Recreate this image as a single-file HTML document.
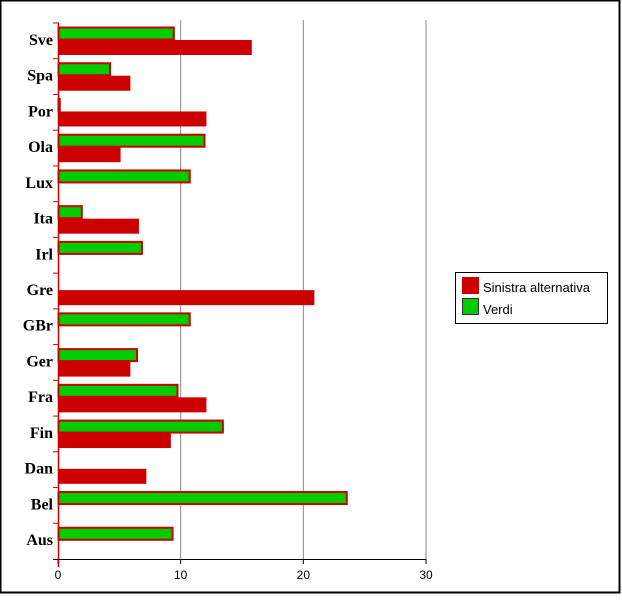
<!DOCTYPE html>
<html><head><meta charset="utf-8"><style>
body{margin:0;background:#fff}
svg text{font-family:"Liberation Serif",serif}
</style></head><body>
<svg width="622" height="595" viewBox="0 0 622 595" xmlns="http://www.w3.org/2000/svg">
<rect x="0.5" y="0.5" width="619" height="592" fill="#fff" stroke="#000" stroke-width="2"/>
<g id="grid"></g><g id="bars"></g><g id="axes"></g>
<g>
<rect x="455.5" y="272.5" width="152" height="51" fill="#fff" stroke="#000"/>
<rect x="462" y="277" width="17" height="17" fill="#cc0000"/>
<text x="483" y="292" font-size="13" style="font-family:'Liberation Sans',sans-serif">Sinistra alternativa</text>
<rect x="462.5" y="298.5" width="16" height="16" fill="#00cc00" stroke="#333"/>
<text x="483" y="314" font-size="13" style="font-family:'Liberation Sans',sans-serif">Verdi</text>
</g>
</svg>
<script>
const categories=["Sve","Spa","Por","Ola","Lux","Ita","Irl","Gre","GBr","Ger","Fra","Fin","Dan","Bel","Aus"];
const sinistra=[15.8,5.9,12.1,5.1,0,6.6,0,20.9,0,5.9,12.1,9.2,7.2,0,0];
const verdi=[9.4,4.2,0.1,11.9,10.7,1.9,6.8,0,10.7,6.4,9.7,13.4,0,23.5,9.3];
const ticks=[0,10,20,30];
const NS="http://www.w3.org/2000/svg";
const x0=58,x1=426,xmax=30,yTop=23,yBot=559;
const band=(yBot-yTop)/categories.length;
const X=v=>x0+v*(x1-x0)/xmax;
const Y=i=>yTop+i*band;
function mk(p,t,a){const e=document.createElementNS(NS,t);for(const k in a)e.setAttribute(k,a[k]);p.appendChild(e);return e;}
const grid=document.getElementById('grid'),bars=document.getElementById('bars'),axes=document.getElementById('axes');
ticks.forEach(t=>{
 if(t>0){const g=mk(grid,'line',{x1:X(t),x2:X(t),y1:yTop-3,y2:yBot,stroke:'#888'});
 
 }
 const tk=mk(axes,'line',{x1:X(t),x2:X(t),y1:yBot,y2:yBot+5,stroke:'#000'});
 
 
 const tl=mk(axes,'text',{x:X(t),y:yBot+20,'text-anchor':'middle','font-size':'12',style:"font-family:'Liberation Sans',sans-serif"});
 tl.textContent=t;
 
 
});
categories.forEach((c,i)=>{
 const b=Y(i);
 if(verdi[i]>0){const g=mk(bars,'rect',{x:x0+0.5,y:b+4.5,width:X(verdi[i])-x0,height:12,fill:'#00cc00',stroke:'#cc0000','stroke-width':2});
 
 }
 if(sinistra[i]>0){const r=mk(bars,'rect',{x:x0,y:b+17,width:X(sinistra[i])-x0,height:15,fill:'#cc0000'});
 
 }
 const l=mk(axes,'text',{x:53,y:b+band/2+4,'text-anchor':'end','font-size':'16','font-weight':'bold'});
 l.textContent=c;
 
 
 const t=mk(axes,'line',{x1:53,x2:59,y1:b,y2:b,stroke:'#cc0000'});
 
 
});
const ya=mk(axes,'line',{x1:58.5,x2:58.5,y1:yTop,y2:yBot+8,stroke:'#cc0000','stroke-width':1.5});


const xa=mk(axes,'line',{x1:53,x2:X(30),y1:yBot+0.5,y2:yBot+0.5,stroke:'#000'});


</script>
</body></html>
